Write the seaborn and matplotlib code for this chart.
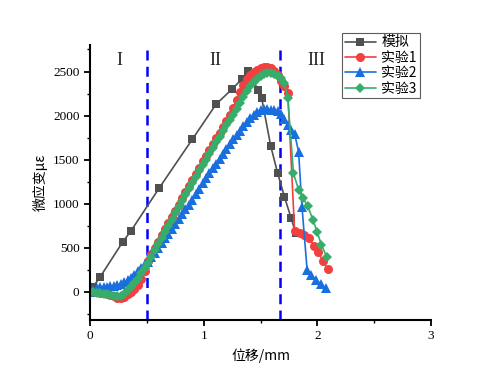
import numpy as np
import pandas as pd
import matplotlib
matplotlib.use("Agg")
import matplotlib.pyplot as plt
import seaborn as sns
from matplotlib.ticker import MultipleLocator

# ===================== DATA =====================
sim_x = [0.03, 0.09, 0.29, 0.36, 0.61, 0.90, 1.11, 1.25, 1.34, 1.39, 1.48, 1.51,
         1.59, 1.65, 1.71, 1.77, 1.81]
sim_y = [60, 170, 570, 690, 1180, 1730, 2130, 2300, 2420, 2505, 2290, 2200,
         1655, 1350, 1080, 835, 665]

exp1_x = [0.00, 0.03, 0.06, 0.09, 0.12, 0.15, 0.18, 0.21, 0.24, 0.27, 0.30, 0.33,
          0.36, 0.39, 0.42, 0.45, 0.48, 0.51, 0.54, 0.57, 0.60, 0.63, 0.66, 0.69,
          0.72, 0.75, 0.78, 0.81, 0.84, 0.87, 0.90, 0.93, 0.96, 0.99, 1.02, 1.05,
          1.08, 1.11, 1.14, 1.17, 1.20, 1.23, 1.26, 1.29, 1.32, 1.35, 1.38, 1.41,
          1.44, 1.47, 1.50, 1.53, 1.56, 1.59, 1.62, 1.65, 1.68, 1.71, 1.74,
          1.80, 1.85, 1.88, 1.93, 1.97, 2.01, 2.05, 2.09]
exp1_y = [0, 0, -5, -10, -15, -25, -35, -50, -65, -75, -55, -25,
          0, 35, 75, 140, 240, 350, 430, 500, 570, 640, 710, 780,
          850, 920, 990, 1060, 1130, 1200, 1270, 1340, 1410, 1480, 1545, 1610,
          1675, 1740, 1805, 1870, 1935, 2010, 2090, 2180, 2270, 2350, 2420, 2460,
          2495, 2520, 2540, 2550, 2552, 2540, 2510, 2460, 2390, 2330, 2260,
          690, 665, 645, 605, 525, 450, 345, 258]

exp2_x = [0.00, 0.03, 0.06, 0.09, 0.12, 0.15, 0.18, 0.21, 0.24, 0.27, 0.30, 0.33,
          0.36, 0.39, 0.42, 0.45, 0.48, 0.51, 0.54, 0.57, 0.60, 0.63, 0.66, 0.69,
          0.72, 0.75, 0.78, 0.81, 0.84, 0.87, 0.90, 0.93, 0.96, 0.99, 1.02, 1.05,
          1.08, 1.11, 1.14, 1.17, 1.20, 1.23, 1.26, 1.29, 1.32, 1.35, 1.38, 1.41,
          1.44, 1.47, 1.50, 1.53, 1.56, 1.59, 1.62, 1.65, 1.68, 1.71, 1.74, 1.77,
          1.80, 1.835, 1.865, 1.91, 1.945, 1.99, 2.03, 2.08]
exp2_y = [0, 20, 40, 50, 55, 60, 65, 70, 80, 90, 110, 130,
          160, 195, 235, 275, 315, 340, 390, 440, 495, 550, 605, 660,
          715, 770, 825, 880, 935, 990, 1045, 1110, 1170, 1230, 1290, 1345,
          1400, 1455, 1510, 1565, 1620, 1675, 1730, 1780, 1830, 1880, 1930, 1970,
          2010, 2040, 2060, 2070, 2070, 2065, 2060, 2050, 2020, 1960, 1890, 1840,
          1795, 1590, 965, 250, 190, 135, 90, 40]

exp3_x = [0.00, 0.03, 0.06, 0.09, 0.12, 0.15, 0.18, 0.21, 0.24, 0.27, 0.30, 0.33,
          0.36, 0.39, 0.42, 0.45, 0.48, 0.51, 0.54, 0.57, 0.60, 0.63, 0.66, 0.69,
          0.72, 0.75, 0.78, 0.81, 0.84, 0.87, 0.90, 0.93, 0.96, 0.99, 1.02, 1.05,
          1.08, 1.11, 1.14, 1.17, 1.20, 1.23, 1.26, 1.29, 1.32, 1.35, 1.38, 1.41,
          1.44, 1.47, 1.50, 1.53, 1.56, 1.59, 1.62, 1.65, 1.68, 1.71, 1.74,
          1.79, 1.835, 1.87, 1.915, 1.96, 2.00, 2.035, 2.085]
exp3_y = [0, -5, -10, -15, -25, -30, -40, -45, -50, -45, -20, 20,
          60, 100, 150, 210, 270, 330, 400, 470, 540, 610, 680, 750,
          820, 890, 960, 1030, 1100, 1170, 1240, 1305, 1370, 1435, 1500, 1565,
          1630, 1695, 1760, 1825, 1890, 1950, 2010, 2070, 2140, 2210, 2280, 2335,
          2380, 2415, 2445, 2470, 2480, 2480, 2470, 2450, 2430, 2370, 2200,
          1345, 1160, 1070, 975, 820, 675, 535, 390]

stage_lines = [0.5, 1.67]
stage_labels = ["I", "II", "III"]
stage_label_x = [0.26, 1.10, 1.99]

series = [
    ("模拟", sim_x, sim_y, "#505050", "s", 5.5),
    ("实验1", exp1_x, exp1_y, "#F14040", "o", 6.5),
    ("实验2", exp2_x, exp2_y, "#1A6FDF", "^", 6.5),
    ("实验3", exp3_x, exp3_y, "#37AD6B", "D", 5.5),
]

# ===================== PLOT =====================
sns.set_style("ticks")
plt.rcParams["font.family"] = ["Liberation Serif", "Noto Sans CJK SC"]

fig = plt.figure(figsize=(5.0, 3.82), dpi=100)
ax = fig.add_axes([0.18, 0.1623, 0.682, 0.7197])

for name, xs, ys, color, marker, ms in series:
    df = pd.DataFrame({"x": xs, "y": ys})
    sns.lineplot(data=df, x="x", y="y", ax=ax, color=color, marker=marker,
                 markersize=ms, markeredgewidth=0, linewidth=1.2,
                 sort=False, estimator=None, label=name)

for xv in stage_lines:
    ax.axvline(xv, color="#0000FF", linestyle=(0, (4, 2.5)), linewidth=1.8, zorder=1)

for lab, xv in zip(stage_labels, stage_label_x):
    ax.text(xv, 2620, lab, ha="center", va="center", fontsize=13,
            family="Liberation Serif")

ax.set_xlim(0, 3)
ax.set_ylim(-320, 2800)
ax.xaxis.set_major_locator(MultipleLocator(1))
ax.xaxis.set_minor_locator(MultipleLocator(0.5))
ax.yaxis.set_major_locator(MultipleLocator(500))
ax.yaxis.set_minor_locator(MultipleLocator(250))
ax.tick_params(which="major", length=4, width=1.3, labelsize=9.5, direction="out",
               colors="black", labelcolor="black")
ax.tick_params(which="minor", length=2.5, width=1.0, direction="out", colors="black")

for side in ["top", "right"]:
    ax.spines[side].set_visible(False)
for side in ["left", "bottom"]:
    ax.spines[side].set_linewidth(1.5)
    ax.spines[side].set_color("black")

ax.set_xlabel("位移/mm", fontsize=10, color="black",
              family=["Noto Sans CJK SC", "Liberation Serif"])
ax.set_ylabel("微应变με", fontsize=10, color="black",
              family=["Noto Sans CJK SC", "Liberation Serif"])

leg = ax.legend(loc="upper left", bbox_to_anchor=(0.74, 1.045), frameon=True,
                fancybox=False, borderpad=0.2, labelspacing=0.1,
                handlelength=2.2, handletextpad=0.4, borderaxespad=0,
                prop={"family": ["Noto Sans CJK SC", "Liberation Serif"], "size": 10})
leg.get_frame().set_edgecolor("#333333")
leg.get_frame().set_linewidth(0.8)
for t in leg.get_texts():
    t.set_color("black")

plt.savefig("out.png", dpi=100)
